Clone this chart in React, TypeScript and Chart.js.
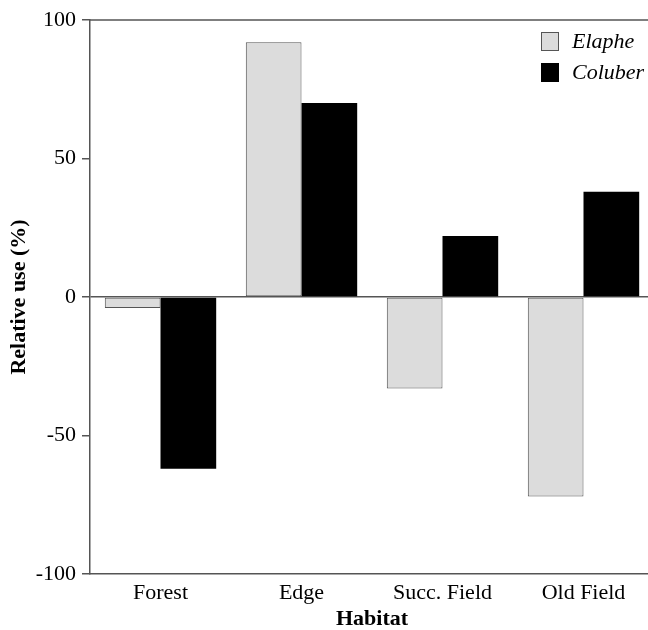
import React, { useEffect, useRef } from "react";
import { Chart, registerables } from "chart.js";

Chart.register(...registerables);

const categories = ["Forest", "Edge", "Succ. Field", "Old Field"];
const elapheValues = [-4, 92, -33, -72];
const coluberValues = [-62, 70, 22, 38];
const yTicks = [-100, -50, 0, 50, 100];

const FONT = "'Liberation Serif', 'Times New Roman', serif";
const AXIS_COLOR = "#555555";

const legendPlugin = {
  id: "customLegendAndFrame",
  afterDraw(chart: any) {
    const { ctx, chartArea } = chart;
    ctx.save();
    // top frame line
    ctx.strokeStyle = AXIS_COLOR;
    ctx.lineWidth = 1.5;
    ctx.beginPath();
    ctx.moveTo(chartArea.left, chartArea.top);
    ctx.lineTo(chart.width, chartArea.top);
    ctx.stroke();
    // legend
    const x0 = chartArea.left + 451;
    let y0 = chartArea.top + 12;
    chart.data.datasets.forEach((ds: any) => {
      ctx.fillStyle = ds.backgroundColor;
      ctx.fillRect(x0, y0, 18, 19);
      ctx.strokeStyle = ds.borderColor;
      ctx.lineWidth = 1;
      ctx.strokeRect(x0 + 0.5, y0 + 0.5, 17, 18);
      ctx.fillStyle = "#000";
      ctx.font = `italic 22px ${FONT}`;
      ctx.textBaseline = "middle";
      ctx.textAlign = "left";
      ctx.fillText(ds.label, x0 + 31, y0 + 10);
      y0 += 31;
    });
    ctx.restore();
  },
};

export default function App() {
  const ref = useRef<HTMLCanvasElement | null>(null);
  useEffect(() => {
    document.documentElement.style.overflow = "hidden";
    document.body.style.margin = "8px 0 0 8px";
    if (!ref.current) return;
    const chart = new Chart(ref.current, {
      type: "bar",
      data: {
        labels: categories,
        datasets: [
          {
            label: "Elaphe",
            data: elapheValues,
            backgroundColor: "#dcdcdc",
            borderColor: "#555555",
            borderWidth: 1,
            borderSkipped: false,
            categoryPercentage: 0.79,
            barPercentage: 1,
          },
          {
            label: "Coluber",
            data: coluberValues,
            backgroundColor: "#000000",
            borderColor: "#000000",
            borderWidth: 0,
            categoryPercentage: 0.79,
            barPercentage: 1,
          },
        ],
      },
      options: {
        responsive: false,
        animation: false,
        layout: { padding: { top: 12, right: 14, left: 0, bottom: 0 } },
        plugins: {
          legend: { display: false },
          tooltip: { enabled: false },
        },
        scales: {
          x: {
            grid: { display: false },
            border: { display: true, color: AXIS_COLOR, width: 1.5 },
            ticks: {
              color: "#000",
              font: { family: FONT, size: 22 },
              padding: -2,
              maxRotation: 0,
            },
            title: {
              display: true,
              text: "Habitat",
              color: "#000",
              font: { family: FONT, size: 22, weight: "bold", lineHeight: 1 },
              padding: 0,
            },
            afterFit: (s: any) => {
              s.height = 56;
              s.paddingLeft = 0;
              s.paddingRight = 0;
            },
          },
          y: {
            min: -100,
            max: 100,
            afterBuildTicks: (s: any) => {
              s.ticks = yTicks.map((v) => ({ value: v }));
            },
            grid: {
              color: (c: any) => (c.tick && c.tick.value === 0 ? AXIS_COLOR : "transparent"),
              tickColor: AXIS_COLOR,
              tickLength: 8,
              lineWidth: 1.5,
            },
            border: { display: true, color: AXIS_COLOR, width: 1.5 },
            ticks: {
              color: "#000",
              font: { family: FONT, size: 22 },
              padding: 6,
            },
            title: {
              display: true,
              text: "Relative use (%)",
              color: "#000",
              font: { family: FONT, size: 22, weight: "bold", lineHeight: 1 },
              padding: 0,
            },
            afterFit: (s: any) => {
              s.width = 82;
              s.paddingTop = 0;
              s.paddingBottom = 0;
            },
          },
        },
      },
      plugins: [legendPlugin],
    });
    return () => chart.destroy();
  }, []);
  return (
    <div style={{ width: 640, height: 622, overflow: "hidden" }}>
      <canvas ref={ref} width={660} height={622} style={{ display: "block" }} />
    </div>
  );
}
